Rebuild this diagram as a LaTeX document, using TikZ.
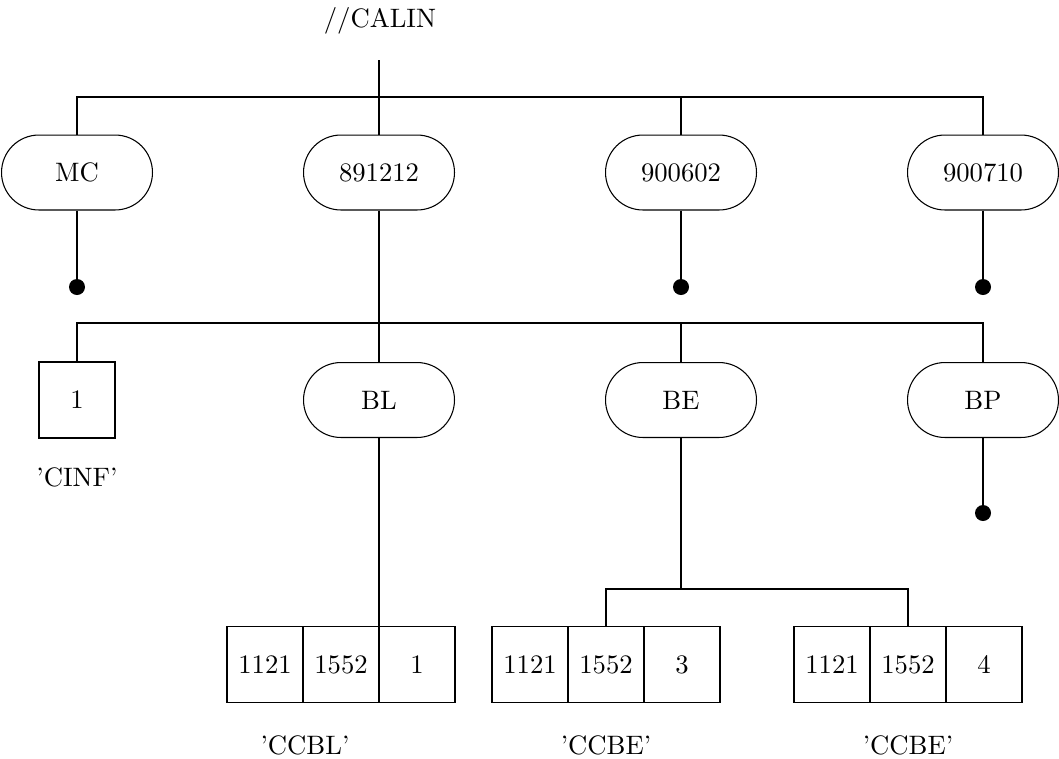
\documentclass[tikz,border=0pt]{standalone}
\begin{document}
\begin{tikzpicture}[x=0.375pt,y=-0.375pt,line width=0.4pt,
  stad/.style={draw,rectangle,rounded corners=14pt,minimum width=56.6pt,minimum height=28.1pt,inner sep=0pt},
  cell/.style={draw,rectangle,minimum width=28.5pt,minimum height=28.5pt,inner sep=0pt},
  leaf/.style={circle,fill=black,minimum size=6pt,inner sep=0pt},
  lbl/.style={inner sep=0pt}]
\useasboundingbox (0,0) rectangle (1059,758);
% top
\node[lbl] (calin) at (380,21) {//CALIN};
\coordinate (c0) at (379,60);
\coordinate (b1) at (379,97);
\node[stad] (mc) at (77,172.5) {MC};
\node[stad] (n1) at (379,172.5) {891212};
\node[stad] (n2) at (681,172.5) {900602};
\node[stad] (n3) at (983,172.5) {900710};
\draw (c0) -- (n1.north);
\draw (mc.north) |- (b1) -| (n3.north);
\draw (n2.north) -- (n2.north |- b1);
\node[leaf] (d1) at (77,287) {};
\node[leaf] (d2) at (681,287) {};
\node[leaf] (d3) at (983,287) {};
\draw (mc.south) -- (d1.center);
\draw (n2.south) -- (d2.center);
\draw (n3.south) -- (d3.center);
% second level
\coordinate (b2) at (379,323);
\node[cell] (one) at (77,400) {1};
\node[lbl] (cinf) at (77,477) {'CINF'};
\node[stad] (bl) at (379,400) {BL};
\node[stad] (be) at (681,400) {BE};
\node[stad] (bp) at (983,400) {BP};
\draw (n1.south) -- (bl.north);
\draw (one.north) |- (b2) -| (bp.north);
\draw (be.north) -- (be.north |- b2);
\node[leaf] (d4) at (983,513) {};
\draw (bp.south) -- (d4.center);
% bottom groups
\node[cell] (g1a) at (265,664.5) {1121};
\node[cell] (g1b) at (341,664.5) {1552};
\node[cell] (g1c) at (417,664.5) {1};
\node[cell] (g2a) at (530,664.5) {1121};
\node[cell] (g2b) at (606,664.5) {1552};
\node[cell] (g2c) at (682,664.5) {3};
\node[cell] (g3a) at (832,664.5) {1121};
\node[cell] (g3b) at (908,664.5) {1552};
\node[cell] (g3c) at (984,664.5) {4};
\node[lbl] (l1) at (305,745) {'CCBL'};
\node[lbl] (l2) at (606,745) {'CCBE'};
\node[lbl] (l3) at (908,745) {'CCBE'};
\draw (bl.south) -- (bl.south |- g1b.north);
\coordinate (b3) at (681,589);
\draw (be.south) -- (b3);
\draw (g2b.north) |- (b3) -| (g3b.north);
\end{tikzpicture}
\end{document}
